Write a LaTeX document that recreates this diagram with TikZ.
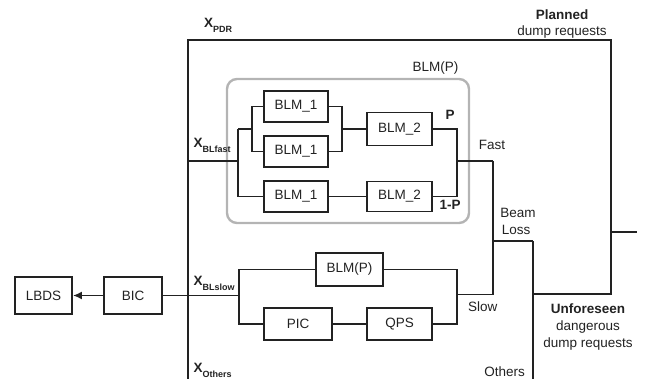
\documentclass[tikz,border=0pt]{standalone}
\usepackage{fontspec}
\setmainfont{Liberation Sans}
\usetikzlibrary{arrows.meta}
\definecolor{ink}{HTML}{222222}
\definecolor{grayframe}{HTML}{B4B4B4}
\newcommand{\Xsub}[1]{\textbf{X}\raisebox{-4.5pt}{\fontsize{9}{9}\selectfont\bfseries #1}}
\begin{document}
\begin{tikzpicture}[x=1pt,y=-1pt,
  box/.style={draw=ink, line width=1.8pt, rectangle, inner sep=0pt, font=\fontsize{13.5}{16}\selectfont, text=ink},
  lbl/.style={inner sep=0pt, font=\fontsize{13.5}{16}\selectfont, text=ink},
  blbl/.style={inner sep=0pt, font=\fontsize{13.5}{16}\selectfont\bfseries, text=ink},
  xlbl/.style={inner sep=0pt, anchor=base west, font=\fontsize{13.5}{16}\selectfont, text=ink},
  wire/.style={draw=ink, line width=1.8pt}]
\useasboundingbox (0,0) rectangle (647,379);

% grouping frame
\node[draw=grayframe, line width=2.4pt, rounded corners=10pt, minimum width=242pt, minimum height=144pt, inner sep=0pt] (grp) at (348,151) {};

% boxes
\node[box, minimum width=57pt, minimum height=37pt] (lbds) at (43.5,295.5) {LBDS};
\node[box, minimum width=58pt, minimum height=37pt] (bic) at (133,295.5) {BIC};
\node[box, minimum width=64pt, minimum height=31pt] (b1a) at (296,106.5) {BLM\_1};
\node[box, minimum width=64pt, minimum height=31pt] (b1b) at (296,151.5) {BLM\_1};
\node[box, minimum width=64pt, minimum height=31pt] (b1c) at (296,196.5) {BLM\_1};
\node[box, minimum width=65pt, minimum height=33pt] (b2a) at (399.5,129) {BLM\_2};
\node[box, minimum width=65pt, minimum height=30pt] (b2b) at (399.5,196.5) {BLM\_2};
\node[box, minimum width=67pt, minimum height=33pt] (blmp) at (349.5,269.5) {BLM(P)};
\node[box, minimum width=68pt, minimum height=32pt] (pic) at (298,324) {PIC};
\node[box, minimum width=65pt, minimum height=32pt] (qps) at (399.5,324) {QPS};

% junction coordinates
\coordinate (topL) at (188,40);
\coordinate (topR) at (611,40);
\coordinate (botL) at (188,379);
\coordinate (jfast) at (188,161);
\coordinate (f1) at (238,161);
\coordinate (f2) at (238,129);
\coordinate (f3) at (252,129);
\coordinate (g) at (342,129);
\coordinate (h) at (457,161);
\coordinate (fastj) at (493,161);
\coordinate (slowj) at (493,294.5);
\coordinate (s1) at (239,295.5);
\coordinate (s2) at (457,294.5);
\coordinate (bl) at (493,241);
\coordinate (othtop) at (533,241);
\coordinate (oth) at (533,294);
\coordinate (othbot) at (533,379);
\coordinate (junc) at (611,294);
\coordinate (outj) at (611,232);
\coordinate (out) at (637,232);

% outer wiring
\draw[wire] (botL) -- (topL) -- (topR) -- (junc) -- (oth);
\draw[wire] (othtop) -- (othbot);
\draw[wire] (bl) -- (othtop);
\draw[wire] (fastj) -- (slowj);
\draw[wire] (outj) -- (out);

% fast branch
\draw[wire] (jfast) -- (f1);
\draw[wire] (f2) |- (b1c.west);
\draw[wire] (f2) -- (f3);
\draw[wire] (b1a.west) -| (f3) |- (b1b.west);
\draw[wire] (b1a.east) -| (g) |- (b1b.east);
\draw[wire] (g) -- (b2a.west);
\draw[wire] (b1c.east) -- (b2b.west);
\draw[wire] (b2a.east) -| (h) |- (b2b.east);
\draw[wire] (h) -- (fastj);

% slow branch
\draw[wire] (bic.east) -- (s1);
\draw[wire] (blmp.west) -| (s1) |- (pic.west);
\draw[wire] (pic) -- (qps);
\draw[wire] (blmp.east) -| (s2) |- (qps.east);
\draw[wire] (s2) -- (slowj);

% arrow to LBDS
\draw[wire, -{Latex[length=9pt,width=8pt]}] (bic.west) -- (lbds.east);

% labels
\node[xlbl] (xpdr) at (204,28) {\Xsub{PDR}};
\node[xlbl] (xfast) at (193.3,148) {\Xsub{BLfast}};
\node[xlbl] (xslow) at (193.3,285.7) {\Xsub{BLslow}};
\node[xlbl] (xoth) at (193.3,372.5) {\Xsub{Others}};

\node[blbl] (pl1) at (562,15) {Planned};
\node[lbl] (pl2) at (562,32) {dump requests};
\node[lbl] (grplbl) at (435.5,68) {BLM(P)};
\node[blbl] (plbl) at (450,115) {P};
\node[blbl] (qlbl) at (450,205) {1-P};
\node[lbl] (fastlbl) at (492,145) {Fast};
\node[lbl] (beam1) at (518,213) {Beam};
\node[lbl] (beam2) at (516,230) {Loss};
\node[lbl] (slowlbl) at (482.7,307) {Slow};
\node[lbl] (othlbl) at (504.7,372) {Others};
\node[blbl] (un1) at (588,309) {Unforeseen};
\node[lbl] (un2) at (588,327) {dangerous};
\node[lbl] (un3) at (588,344) {dump requests};
\end{tikzpicture}
\end{document}
